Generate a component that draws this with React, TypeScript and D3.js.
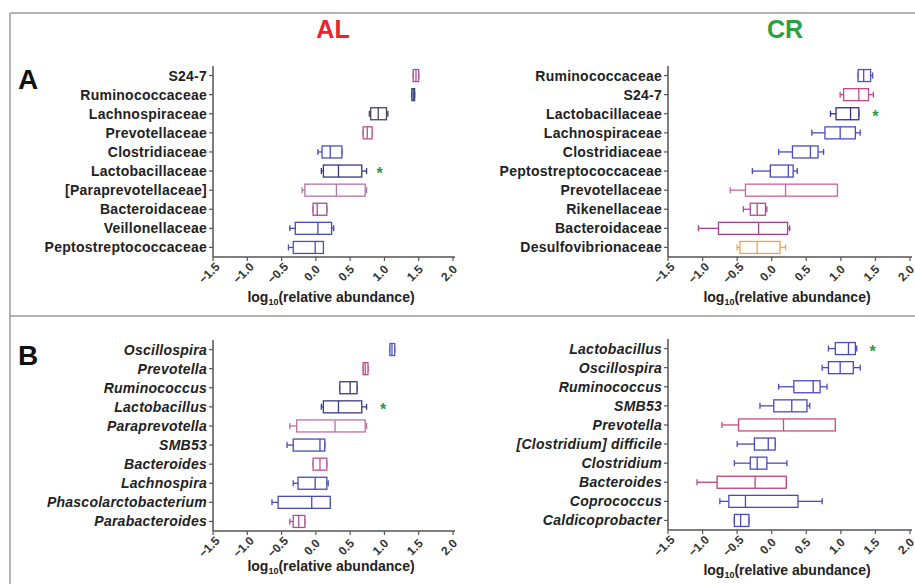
import * as d3 from "d3";

// [min, q1, median, q3, max] in log10(relative abundance)
const alFamilyNames = ["S24-7", "Ruminococcaceae", "Lachnospiraceae", "Prevotellaceae", "Clostridiaceae", "Lactobacillaceae", "[Paraprevotellaceae]", "Bacteroidaceae", "Veillonellaceae", "Peptostreptococcaceae"];
const alFamilyStats = [
  [1.42, 1.42, 1.46, 1.5, 1.5],
  [1.4, 1.4, 1.42, 1.44, 1.44],
  [0.78, 0.8, 0.91, 1.03, 1.05],
  [0.69, 0.69, 0.75, 0.82, 0.82],
  [0.03, 0.09, 0.21, 0.38, 0.38],
  [0.08, 0.11, 0.33, 0.67, 0.74],
  [-0.2, -0.16, 0.3, 0.72, 0.74],
  [-0.04, -0.04, 0.02, 0.16, 0.16],
  [-0.38, -0.3, 0.03, 0.23, 0.26],
  [-0.4, -0.33, -0.01, 0.11, 0.11],
];
const alFamilyColors = ["#a8509a", "#34447e", "#45455e", "#c0508c", "#4c4cc0", "#38387e", "#b474a4", "#a05094", "#4848c0", "#5050b4"];

const crFamilyNames = ["Ruminococcaceae", "S24-7", "Lactobacillaceae", "Lachnospiraceae", "Clostridiaceae", "Peptostreptococcaceae", "Prevotellaceae", "Rikenellaceae", "Bacteroidaceae", "Desulfovibrionaceae"];
const crFamilyStats = [
  [1.25, 1.25, 1.33, 1.43, 1.46],
  [0.99, 1.04, 1.26, 1.4, 1.47],
  [0.85, 0.93, 1.14, 1.26, 1.26],
  [0.58, 0.77, 0.99, 1.21, 1.28],
  [0.1, 0.3, 0.56, 0.67, 0.75],
  [-0.28, -0.02, 0.24, 0.31, 0.37],
  [-0.6, -0.38, 0.2, 0.95, 0.95],
  [-0.41, -0.31, -0.21, -0.09, -0.07],
  [-1.06, -0.77, -0.19, 0.23, 0.26],
  [-0.5, -0.46, -0.21, 0.12, 0.2],
];
const crFamilyColors = ["#5050c0", "#c04a8c", "#30307e", "#4a4ac0", "#4a4ac0", "#4a4ac0", "#d0609a", "#b04a94", "#a8408e", "#f0a050"];

const alGenusNames = ["Oscillospira", "Prevotella", "Ruminococcus", "Lactobacillus", "Paraprevotella", "SMB53", "Bacteroides", "Lachnospira", "Phascolarctobacterium", "Parabacteroides"];
const alGenusStats = [
  [1.08, 1.08, 1.11, 1.15, 1.15],
  [0.69, 0.69, 0.72, 0.76, 0.76],
  [0.35, 0.35, 0.5, 0.6, 0.6],
  [0.08, 0.11, 0.33, 0.67, 0.74],
  [-0.38, -0.28, 0.28, 0.72, 0.74],
  [-0.42, -0.33, 0.06, 0.13, 0.13],
  [-0.04, -0.04, 0.06, 0.16, 0.16],
  [-0.33, -0.26, -0.01, 0.16, 0.18],
  [-0.64, -0.55, -0.06, 0.21, 0.21],
  [-0.38, -0.33, -0.25, -0.16, -0.16],
];
const alGenusColors = ["#4a5ac0", "#c04a8c", "#3a3a80", "#3a3a80", "#c070a4", "#4a4ab8", "#c05098", "#4a4ab8", "#4a4ab8", "#a8509a"];

const crGenusNames = ["Lactobacillus", "Oscillospira", "Ruminococcus", "SMB53", "Prevotella", "[Clostridium] difficile", "Clostridium", "Bacteroides", "Coprococcus", "Caldicoprobacter"];
const crGenusStats = [
  [0.82, 0.92, 1.11, 1.21, 1.23],
  [0.73, 0.82, 0.99, 1.18, 1.28],
  [0.1, 0.32, 0.6, 0.7, 0.8],
  [-0.17, 0.03, 0.29, 0.51, 0.55],
  [-0.72, -0.48, 0.17, 0.92, 0.92],
  [-0.5, -0.25, -0.05, 0.05, 0.05],
  [-0.54, -0.31, -0.21, -0.07, 0.22],
  [-1.08, -0.79, -0.24, 0.21, 0.21],
  [-0.75, -0.62, -0.38, 0.38, 0.73],
  [-0.54, -0.54, -0.45, -0.33, -0.33],
];
const crGenusColors = ["#4a4ac0", "#4a4ac0", "#4a4ac0", "#4a4ac0", "#d04a78", "#4a4ac0", "#4a4ac0", "#c0407e", "#4a4ac0", "#4a4ac0"];

// significance stars (green *)
const starRows = ["Lactobacillaceae", "Lactobacillaceae", "Lactobacillus", "Lactobacillus"];
const starValues = [0.93, 1.5, 0.98, 1.46];

const xTicks = [-1.5, -1.0, -0.5, 0.0, 0.5, 1.0, 1.5, 2.0];

const FONT = "'Liberation Sans', Arial, sans-serif";

type PanelProps = {
  names: string[];
  stats: number[][];
  colors: string[];
  left: number;
  right: number;
  top: number;
  bottom: number;
  italic?: boolean;
  star: number;
  labelY: number;
};

function Panel({ names, stats, colors, left, right, top, bottom, italic, star, labelY }: PanelProps) {
  const x = d3.scaleLinear().domain([-1.5, 2.0]).range([left, right]);
  const y = d3.scalePoint<string>().domain(names).range([top, bottom]).padding(0.5);
  const boxH = 12;
  const fmt = d3.format(".1f");
  const starY = y(starRows[star]) as number;

  return (
    <g>
      {/* y axis */}
      <line x1={left} x2={left} y1={top} y2={bottom} stroke="#555" strokeWidth={1.5} />
      {names.map((n) => (
        <g key={n}>
          <line x1={left - 4} x2={left} y1={y(n)} y2={y(n)} stroke="#555" strokeWidth={1.2} />
          <text
            x={left - 6}
            y={(y(n) as number) + 5}
            textAnchor="end"
            fontSize={14}
            letterSpacing={0.25}
            fontWeight="bold"
            fontStyle={italic ? "italic" : "normal"}
            fill="#222"
          >
            {n}
          </text>
        </g>
      ))}
      {/* x axis */}
      <line x1={left} x2={right + 2} y1={bottom} y2={bottom} stroke="#555" strokeWidth={1.5} />
      {xTicks.map((t) => (
        <g key={t}>
          <line x1={x(t)} x2={x(t)} y1={bottom} y2={bottom + 4} stroke="#555" strokeWidth={1.2} />
          <text
            transform={`translate(${x(t) - 1},${bottom + 19}) rotate(-45)`}
            textAnchor="middle"
            fontSize={12}
            fontWeight="bold"
            fill="#333"
          >
            {fmt(t)}
          </text>
        </g>
      ))}
      <text x={(left + right) / 2 - 2} y={labelY} textAnchor="middle" fontSize={14} fill="#222" fontWeight="bold">
        log
        <tspan fontSize={9} dy={3}>10</tspan>
        <tspan dy={-3}>(relative abundance)</tspan>
      </text>
      {/* boxes */}
      {names.map((n, i) => {
        const [mn, q1, md, q3, mx] = stats[i];
        const cy = y(n) as number;
        const c = colors[i];
        return (
          <g key={"b" + n} stroke={c} strokeWidth={1.3} fill="none">
            <line x1={x(mn)} x2={x(q1)} y1={cy} y2={cy} />
            <line x1={x(q3)} x2={x(mx)} y1={cy} y2={cy} />
            <line x1={x(mn)} x2={x(mn)} y1={cy - 3} y2={cy + 3} />
            <line x1={x(mx)} x2={x(mx)} y1={cy - 3} y2={cy + 3} />
            <rect x={x(q1)} y={cy - boxH / 2} width={Math.max(x(q3) - x(q1), 1.5)} height={boxH} fill="#fff" />
            <line x1={x(md)} x2={x(md)} y1={cy - boxH / 2} y2={cy + boxH / 2} />
          </g>
        );
      })}
      <text x={x(starValues[star])} y={starY + 8} textAnchor="middle" fontSize={16} fontWeight="bold" fill="#2a9a40">
        *
      </text>
    </g>
  );
}

export default function App() {
  return (
    <svg
      width={915}
      height={584}
      style={{ position: "absolute", left: 0, top: 0, background: "#fff" }}
      fontFamily={FONT}
    >
      <rect width={915} height={584} fill="#fff" />
      {/* frame */}
      <line x1={10} x2={915} y1={13} y2={13} stroke="#9a9a9a" strokeWidth={1.5} />
      <line x1={10} x2={915} y1={316} y2={316} stroke="#9a9a9a" strokeWidth={1.5} />
      <line x1={10} x2={10} y1={13} y2={584} stroke="#9a9a9a" strokeWidth={1.5} />

      <text x={333} y={38} textAnchor="middle" fontSize={25} fontWeight="bold" fill="#e8242e">AL</text>
      <text x={785} y={38} textAnchor="middle" fontSize={25} fontWeight="bold" fill="#2aa040">CR</text>
      <text x={28} y={89} textAnchor="middle" fontSize={28} fontWeight="bold" fill="#111">A</text>
      <text x={28} y={365} textAnchor="middle" fontSize={28} fontWeight="bold" fill="#111">B</text>

      <Panel names={alFamilyNames} stats={alFamilyStats} colors={alFamilyColors} left={213} right={453} top={66} bottom={257} star={0} labelY={302} />
      <Panel names={crFamilyNames} stats={crFamilyStats} colors={crFamilyColors} left={668} right={910} top={66} bottom={257} star={1} labelY={302} />
      <Panel names={alGenusNames} stats={alGenusStats} colors={alGenusColors} left={213} right={453} top={340} bottom={531} italic star={2} labelY={571} />
      <Panel names={crGenusNames} stats={crGenusStats} colors={crGenusColors} left={668} right={910} top={339} bottom={530} italic star={3} labelY={575} />
    </svg>
  );
}
